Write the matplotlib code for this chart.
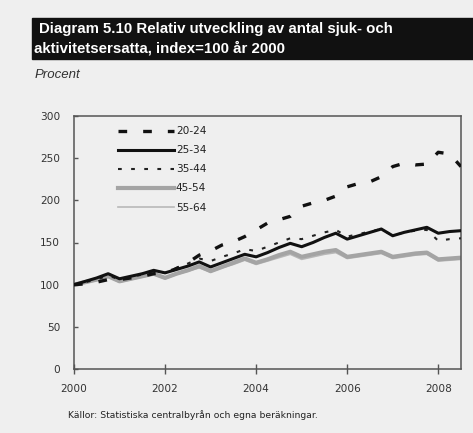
import matplotlib
matplotlib.use("Agg")
import matplotlib.pyplot as plt
import numpy as np

# Data (quarterly, index = 100 year 2000)
years = [2000 + 0.25 * k for k in range(35)]
s_20_24 = [100, 101, 103, 106, 106, 108, 110, 113, 114, 119, 126, 135,
           140, 147, 151, 157, 165, 173, 177, 181, 193, 197, 200, 205,
           216, 220, 222, 228, 240, 244, 242, 243, 257, 255, 240]
s_25_34 = [100, 104, 108, 113, 107, 110, 113, 117, 114, 118, 122, 127,
           121, 126, 131, 136, 133, 138, 144, 149, 145, 150, 156, 161,
           154, 158, 162, 166, 158, 162, 165, 168, 161, 163, 164]
s_35_44 = [100, 103, 106, 111, 106, 109, 112, 116, 114, 120, 125, 131,
           128, 133, 137, 142, 140, 145, 150, 155, 154, 158, 162, 165,
           157, 160, 163, 166, 158, 162, 164, 165, 152, 154, 155]
s_45_54 = [100, 103, 106, 110, 104, 107, 110, 113, 108, 113, 117, 122,
           116, 121, 126, 131, 126, 130, 135, 139, 133, 136, 139, 141,
           133, 135, 137, 139, 133, 135, 137, 138, 130, 131, 132]
s_55_64 = [100, 102, 105, 109, 103, 106, 109, 112, 107, 112, 116, 120,
           115, 120, 124, 129, 124, 128, 132, 136, 130, 133, 136, 138,
           131, 133, 135, 137, 131, 133, 135, 136, 128, 129, 130]
labels = ["20-24", "25-34", "35-44", "45-54", "55-64"]
xticks = [2000, 2002, 2004, 2006, 2008]
yticks = [0, 50, 100, 150, 200, 250, 300]

BG = "#efefef"
FONT = "DejaVu Sans"

fig = plt.figure(figsize=(4.73, 4.33), dpi=100, facecolor=BG)
ax = fig.add_axes([74/473, 1-369/433, (461-74)/473, (369-116)/433])
ax.set_facecolor(BG)

ax.plot(years, s_55_64, color="#b8b8b8", lw=1.2, label=labels[4], zorder=2)
ax.plot(years, s_45_54, color="#a4a4a4", lw=3.0, label=labels[3], zorder=2)
ax.plot(years, s_35_44, color="#222222", lw=1.5, dashes=(1.8, 4.5), label=labels[2], zorder=3)
ax.plot(years, s_25_34, color="#111111", lw=2.2, label=labels[1], zorder=4)
ax.plot(years, s_20_24, color="#111111", lw=2.4, dashes=(2.6, 4.8), label=labels[0], zorder=5)

ax.set_xlim(2000, 2008.5)
ax.set_ylim(0, 300)
ax.set_xticks(xticks)
ax.set_yticks(yticks)
ax.set_xticklabels([str(v) for v in xticks], family=FONT, fontsize=7.6, color="#333333")
ax.set_yticklabels([str(v) for v in yticks], family=FONT, fontsize=7.6, color="#333333")
ax.tick_params(axis="y", direction="in", length=3, width=1, color="#555555", pad=10)
ax.tick_params(axis="x", direction="inout", length=7, width=1, color="#555555", pad=7)
for sp in ax.spines.values():
    sp.set_color("#555555")
    sp.set_linewidth(1.1)

handles, labs = ax.get_legend_handles_labels()
order = [4, 3, 2, 1, 0]
leg = ax.legend([handles[i] for i in order], [labs[i] for i in order],
                loc="upper left", bbox_to_anchor=(0.09, 0.997), frameon=False,
                handlelength=5.3, handletextpad=0.15, labelspacing=0.86,
                prop={"family": FONT, "size": 7.6})
for t in leg.get_texts():
    t.set_color("#222222")

# Title box
fig.patches.append(plt.Rectangle((32/473, 1-59/433), 1.0, 41/433,
                                 transform=fig.transFigure, color="#111111", zorder=0))
fig.text(39/473, 1-29/433, "Diagram 5.10 Relativ utveckling av antal sjuk- och",
         color="white", fontsize=10.8, fontweight="bold", family="Liberation Sans",
         va="center", ha="left")
fig.text(34/473, 1-48/433, "aktivitetsersatta, index=100 år 2000",
         color="white", fontsize=10.8, fontweight="bold", family="Liberation Sans",
         va="center", ha="left")
fig.text(35/473, 1-75/433, "Procent", color="#333333", fontsize=9.5,
         style="italic", family="Liberation Sans", va="center", ha="left")
fig.text(68/473, 1-415/433, "Källor: Statistiska centralbyrån och egna beräkningar.",
         color="#222222", fontsize=6.7, family=FONT, va="center", ha="left")

fig.savefig("out.png", dpi=100, facecolor=BG)
